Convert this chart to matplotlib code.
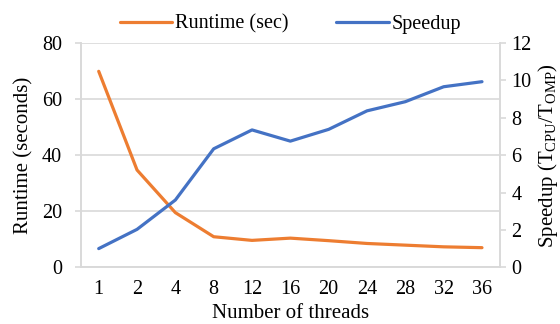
import matplotlib
matplotlib.use("Agg")
import matplotlib.pyplot as plt

threads = ["1", "2", "4", "8", "12", "16", "20", "24", "28", "32", "36"]
runtime = [69.9, 34.7, 19.5, 10.9, 9.6, 10.4, 9.5, 8.5, 7.9, 7.3, 7.0]
speedup = [1.0, 2.03, 3.6, 6.34, 7.35, 6.75, 7.38, 8.37, 8.86, 9.66, 9.93]

plt.rcParams['font.family'] = ['Liberation Serif', 'DejaVu Serif']
plt.rcParams['mathtext.fontset'] = 'custom'
plt.rcParams['mathtext.rm'] = 'Liberation Serif'
plt.rcParams['mathtext.it'] = 'Liberation Serif:italic'
FS_T = 14.5
FS_L = 15.0
ORANGE = "#ED7D31"
BLUE = "#4472C4"
GRID = "#D9D9D9"

fig = plt.figure(figsize=(5.6, 3.24), dpi=100)
ax = fig.add_axes([80.7/560, 1-267.3/324, (500-80.7)/560, (267.3-43)/324])
ax2 = ax.twinx()

x = list(range(len(threads)))
l1, = ax.plot(x, runtime, color=ORANGE, lw=2.3, solid_capstyle='round', zorder=3)
l2, = ax2.plot(x, speedup, color=BLUE, lw=2.3, solid_capstyle='round', zorder=3)

ax.set_xlim(-0.47, len(threads) - 1 + 0.47)
ax.set_ylim(0, 80)
ax.set_yticks([0, 20, 40, 60, 80])
ax2.set_ylim(0, 12)
ax2.set_yticks([0, 2, 4, 6, 8, 10, 12])
ax.set_xticks(x)
ax.set_xticklabels(threads)

ax.grid(axis='y', color=GRID, lw=1.2)
ax.set_axisbelow(True)

for a in (ax, ax2):
    for s in a.spines.values():
        s.set_color(GRID)
        s.set_linewidth(1.2)
    a.spines['top'].set_visible(False)
    a.tick_params(labelsize=FS_T, colors='black')
ax.tick_params(axis='y', length=4.3, color=GRID, width=1.2, pad=9)
ax.tick_params(axis='x', length=0, pad=9)
ax2.tick_params(axis='y', length=4.3, color=GRID, width=1.2, pad=4)

ax.set_xlabel("Number of threads", fontsize=FS_L, labelpad=4)
ax.set_ylabel("Runtime (seconds)", fontsize=FS_L, labelpad=6)
ax2.set_ylabel(r"Speedup (T$_{\mathrm{CPU}}$/T$_{\mathrm{OMP}}$)", fontsize=FS_L, labelpad=3)

fig.legend([l1, l2], ["Runtime (sec)", "Speedup"], loc='center',
           bbox_to_anchor=(0.519, 1 - 24/324), ncol=2, frameon=False,
           fontsize=FS_T, handlelength=2.6, handletextpad=0.15, columnspacing=2.35)

fig.savefig("out.png", dpi=100)
